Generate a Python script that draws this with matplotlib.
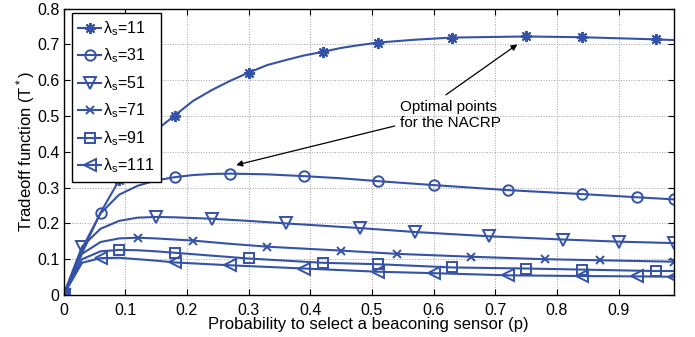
import matplotlib
matplotlib.use("Agg")
import matplotlib.pyplot as plt

plt.rcParams['font.family'] = ['Liberation Sans', 'DejaVu Sans']
plt.rcParams['mathtext.fontset'] = 'custom'
plt.rcParams['mathtext.rm'] = 'Liberation Sans'
plt.rcParams['mathtext.it'] = 'Liberation Sans'

# values
p11 = [0, 0.03, 0.06, 0.09, 0.12, 0.15, 0.18, 0.21, 0.24, 0.27, 0.30, 0.33, 0.36, 0.39, 0.42,
       0.45, 0.48, 0.51, 0.57, 0.63, 0.75, 0.84, 0.96, 0.99]
t11 = [0, 0.12, 0.23, 0.32, 0.40, 0.46, 0.501, 0.542, 0.572, 0.598, 0.621, 0.642, 0.656, 0.669, 0.679,
       0.69, 0.698, 0.705, 0.713, 0.719, 0.722, 0.72, 0.714, 0.712]
m11 = [0, 3, 6, 10, 14, 17, 19, 20, 21, 22]

p31 = [0, 0.03, 0.06, 0.09, 0.12, 0.15, 0.18, 0.21, 0.24, 0.27, 0.33, 0.39, 0.45, 0.51, 0.60, 0.72, 0.84, 0.93, 0.99]
t31 = [0, 0.13, 0.228, 0.28, 0.305, 0.32, 0.329, 0.335, 0.338, 0.339, 0.337, 0.332, 0.326, 0.318, 0.307, 0.293, 0.282, 0.273, 0.267]
m31 = [0, 2, 6, 9, 11, 13, 14, 15, 16, 17, 18]

p51 = [0, 0.03, 0.06, 0.09, 0.12, 0.15, 0.18, 0.21, 0.24, 0.30, 0.36, 0.48, 0.57, 0.69, 0.81, 0.90, 0.99]
t51 = [0, 0.135, 0.185, 0.207, 0.216, 0.218, 0.217, 0.215, 0.213, 0.207, 0.2, 0.187, 0.176, 0.164, 0.155, 0.149, 0.145]
m51 = [0, 1, 5, 8, 10, 11, 12, 13, 14, 15, 16]

p71 = [0, 0.03, 0.06, 0.09, 0.12, 0.15, 0.18, 0.21, 0.27, 0.33, 0.45, 0.54, 0.66, 0.78, 0.87, 0.99]
t71 = [0, 0.115, 0.148, 0.158, 0.16, 0.158, 0.155, 0.152, 0.143, 0.135, 0.124, 0.115, 0.107, 0.100, 0.097, 0.093]
m71 = [0, 4, 7, 9, 10, 11, 12, 13, 14, 15]

p91 = [0, 0.03, 0.06, 0.09, 0.12, 0.15, 0.18, 0.24, 0.30, 0.42, 0.51, 0.63, 0.75, 0.84, 0.96, 0.99]
t91 = [0, 0.1, 0.122, 0.126, 0.125, 0.122, 0.118, 0.11, 0.102, 0.09, 0.086, 0.077, 0.074, 0.071, 0.067, 0.067]
m91 = [0, 3, 6, 8, 9, 10, 11, 12, 13, 14]

p111 = [0, 0.03, 0.06, 0.09, 0.12, 0.15, 0.18, 0.27, 0.39, 0.51, 0.60, 0.72, 0.84, 0.93, 0.99]
t111 = [0, 0.09, 0.103, 0.104, 0.1, 0.096, 0.091, 0.083, 0.074, 0.065, 0.061, 0.055, 0.053, 0.052, 0.051]
m111 = [0, 2, 6, 7, 8, 9, 10, 11, 12, 13, 14]

labels = [r'$\lambda_s$=11', r'$\lambda_s$=31', r'$\lambda_s$=51',
          r'$\lambda_s$=71', r'$\lambda_s$=91', r'$\lambda_s$=111']
xticks = [0, 0.1, 0.2, 0.3, 0.4, 0.5, 0.6, 0.7, 0.8, 0.9]
xticklabels = ['0', '0.1', '0.2', '0.3', '0.4', '0.5', '0.6', '0.7', '0.8', '0.9']
yticks = [0, 0.1, 0.2, 0.3, 0.4, 0.5, 0.6, 0.7, 0.8]
yticklabels = ['0', '0.1', '0.2', '0.3', '0.4', '0.5', '0.6', '0.7', '0.8']

blue = '#3452a8'

fig = plt.figure(figsize=(6.95, 3.37), dpi=100)
ax = fig.add_axes([0.0914, 0.1246, 0.8784, 0.850])

series = [(p11, t11, m11, (8, 2, 0), 8),
          (p31, t31, m31, 'o', 7.5),
          (p51, t51, m51, 'v', 8),
          (p71, t71, m71, 'x', 5.5),
          (p91, t91, m91, 's', 6.5),
          (p111, t111, m111, '<', 8)]

for (p, t, m, mk, ms), lab in zip(series, labels):
    ax.plot(p, t, color=blue, linewidth=1.5, marker=mk, markersize=ms,
            markevery=m, markerfacecolor='none', markeredgecolor=blue,
            markeredgewidth=1.4, label=lab)

ax.set_xlim(0, 0.99)
ax.set_ylim(0, 0.8)
ax.set_xticks(xticks)
ax.set_xticklabels(xticklabels)
ax.set_yticks(yticks)
ax.set_yticklabels(yticklabels)
ax.tick_params(direction='in', top=True, right=True, labelsize=11.5, length=4)
ax.tick_params(axis='x', pad=6)
ax.tick_params(axis='y', pad=3)
ax.grid(True, linestyle=':', color='#a0a0a0', linewidth=0.7)
for s in ax.spines.values():
    s.set_linewidth(1.0)
    s.set_color('black')

ax.set_xlabel('Probability to select a beaconing sensor (p)', fontsize=12, labelpad=-1)
ax.set_ylabel(r'Tradeoff function (T$^*$)', fontsize=12, labelpad=0)

leg = ax.legend(loc='upper left', bbox_to_anchor=(0.014, 0.985), borderaxespad=0,
                fontsize=11.5, handlelength=1.4, handletextpad=0.15,
                labelspacing=0.55, borderpad=0.4, fancybox=False,
                framealpha=1, edgecolor='black')
leg.get_frame().set_linewidth(1.0)

ax.text(0.546, 0.545, 'Optimal points\nfor the NACRP', fontsize=11, va='top', ha='left')
ax.annotate('', xy=(0.736, 0.70), xytext=(0.62, 0.559),
            arrowprops=dict(arrowstyle='-|>', color='black', lw=0.9,
                            mutation_scale=9, shrinkA=0, shrinkB=0))
ax.annotate('', xy=(0.28, 0.363), xytext=(0.537, 0.472),
            arrowprops=dict(arrowstyle='-|>', color='black', lw=0.9,
                            mutation_scale=9, shrinkA=0, shrinkB=0))

fig.savefig('out.png', dpi=100)
